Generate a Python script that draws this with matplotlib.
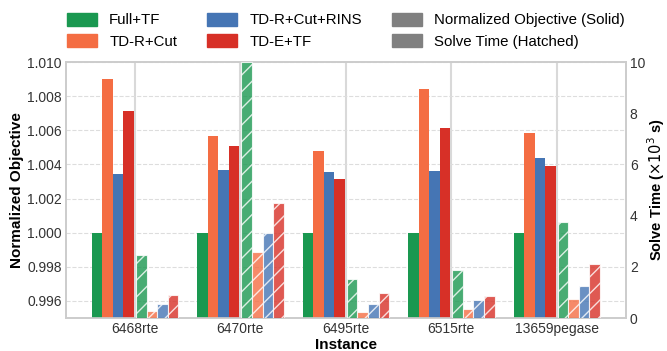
import numpy as np
import matplotlib.pyplot as plt
from matplotlib.patches import Patch

plt.rcParams['font.family'] = ['Liberation Sans', 'DejaVu Sans']
plt.rcParams['hatch.linewidth'] = 1.0

# data
instances = ['6468rte', '6470rte', '6495rte', '6515rte', '13659pegase']
methods = ['Full+TF', 'TD-R+Cut', 'TD-R+Cut+RINS', 'TD-E+TF']
colors = ['#1a9850', '#f46d43', '#4575b4', '#d73027']

# normalized objective (solid bars, left axis)
obj_full = [1.0000, 1.0000, 1.0000, 1.0000, 1.0000]
obj_tdr_cut = [1.0090, 1.00567, 1.0048, 1.00842, 1.00585]
obj_tdr_rins = [1.00345, 1.00368, 1.00357, 1.00363, 1.00439]
obj_tde = [1.00712, 1.00509, 1.00316, 1.00614, 1.00392]

# solve time in 10^3 s (hatched bars, right axis)
time_full = [2.45, 10.0, 1.51, 1.86, 3.74]
time_tdr_cut = [0.26, 2.57, 0.25, 0.35, 0.74]
time_tdr_rins = [0.53, 3.31, 0.53, 0.70, 1.24]
time_tde = [0.89, 4.50, 0.96, 0.85, 2.10]

objs = [obj_full, obj_tdr_cut, obj_tdr_rins, obj_tde]
times = [time_full, time_tdr_cut, time_tdr_rins, time_tde]

fig = plt.figure(figsize=(6.67, 3.51), dpi=100)
ax = fig.add_axes([0.099, 0.094, 0.839, 0.729])
ax2 = ax.twinx()

x = np.arange(len(instances))
w = 0.1

for i in range(4):
    ax.bar(x - 0.41 + (i + 0.5) * w, objs[i], w, color=colors[i], zorder=3)
    ax2.bar(x + 0.01 + (i + 0.5) * w, times[i], w, color=colors[i], alpha=0.8,
            hatch='//', edgecolor='white', linewidth=0.8, zorder=3)

ax.set_ylim(0.995, 1.010)
ticks = np.arange(0.996, 1.0101, 0.002)
ax.set_yticks(ticks)
ax.set_yticklabels(['%.3f' % v for v in ticks])
ax2.set_ylim(0, 10)
ax2.set_yticks([0, 2, 4, 6, 8, 10])
ax.set_xlim(-0.653, 4.653)
ax.set_xticks(x)
ax.set_xticklabels(instances)

ax.set_axisbelow(True)
ax.yaxis.grid(True, linestyle='--', color='#dddddd', linewidth=0.8)
ax.xaxis.grid(True, linestyle='-', color='#d9d9d9', linewidth=1.5)

for a in (ax, ax2):
    for s in a.spines.values():
        s.set_color('#cccccc')
        s.set_linewidth(1.2)
    a.tick_params(length=0, labelsize=10, colors='#333333', pad=3)
ax2.set_zorder(ax.get_zorder() + 1)

ax.set_xlabel('Instance', fontsize=11, fontweight='bold', labelpad=1)
ax.set_ylabel('Normalized Objective', fontsize=11, fontweight='bold', labelpad=2)
ax2.set_ylabel(r'Solve Time ($\times10^3$ s)', fontsize=10.5, fontweight='bold', labelpad=0)

handles = [Patch(color=c, label=m) for c, m in zip(colors, methods)]
handles += [Patch(color='gray', label='Normalized Objective (Solid)'),
            Patch(color='gray', label='Solve Time (Hatched)')]
ax.legend(handles=handles, ncol=3, loc='lower center', bbox_to_anchor=(0.5, 1.0),
          frameon=False, fontsize=10.8, handlelength=2.0, handleheight=0.95,
          columnspacing=2.0, labelspacing=0.45)

fig.savefig('out.png', dpi=100)
